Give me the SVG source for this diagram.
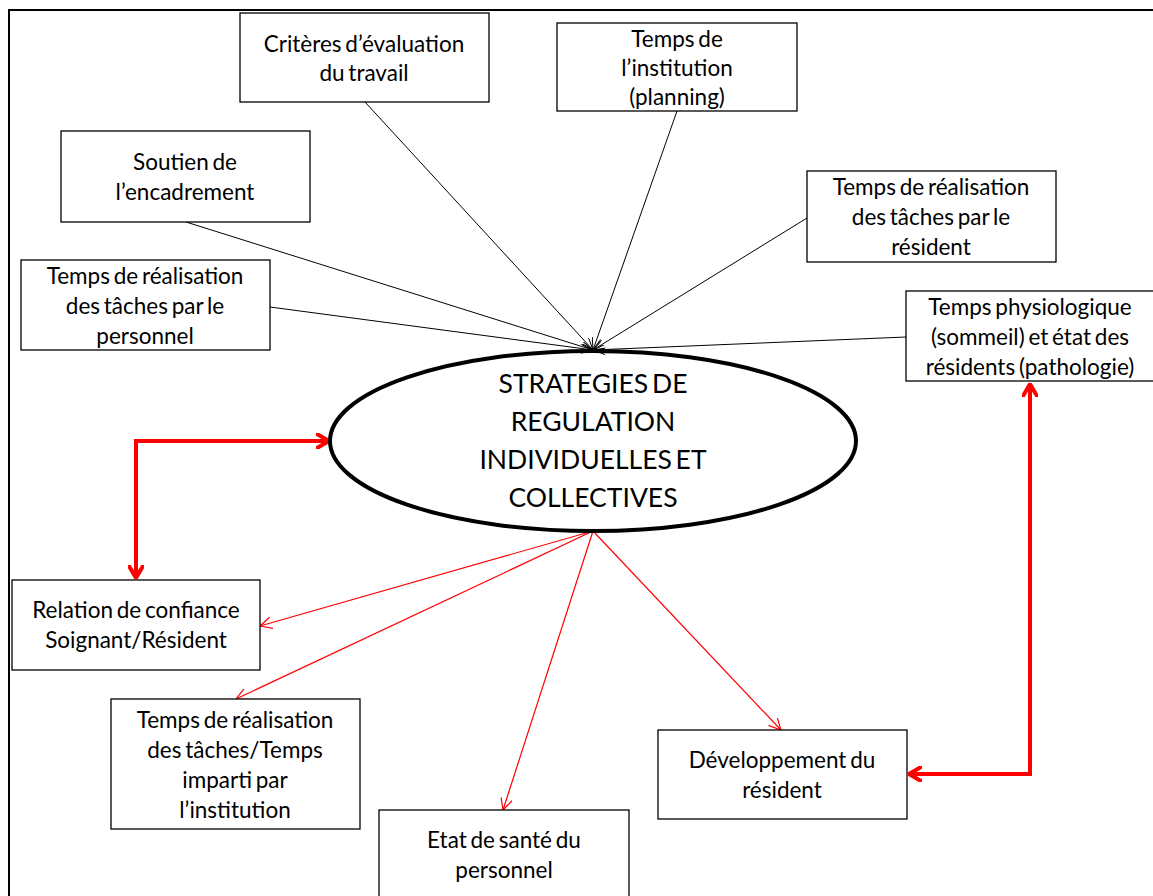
<svg xmlns="http://www.w3.org/2000/svg" width="1153" height="896" viewBox="0 0 1153 896">
<defs>
<style>
.box{fill:#fff;stroke:#000;stroke-width:1.3}
.t{font-family:Lato,"Liberation Sans",sans-serif;font-size:22.5px;fill:#000;text-anchor:middle;word-spacing:-2px}
.big{font-family:Lato,"Liberation Sans",sans-serif;font-size:26.5px;fill:#000;text-anchor:middle;word-spacing:-3px}
.bl{stroke:#000;stroke-width:1;fill:none;marker-end:url(#ab)}
.rt{stroke:#f00;stroke-width:1.2;fill:none;marker-end:url(#ar)}
.rk{stroke:#f00;stroke-width:4;fill:none;marker-start:url(#ak);marker-end:url(#ak)}
</style>
<marker id="ab" viewBox="0 0 12 10" refX="12" refY="5" markerWidth="12" markerHeight="10" markerUnits="userSpaceOnUse" orient="auto">
<path d="M0,0 L12,5 L0,10" fill="none" stroke="#000" stroke-width="1"/>
</marker>
<marker id="ar" viewBox="0 0 12 12" refX="12" refY="6" markerWidth="12" markerHeight="12" markerUnits="userSpaceOnUse" orient="auto">
<path d="M0,0 L12,6 L0,12" fill="none" stroke="#f00" stroke-width="1.2"/>
</marker>
<marker id="ak" viewBox="0 0 14 16" refX="13" refY="8" markerWidth="14" markerHeight="16" markerUnits="userSpaceOnUse" orient="auto-start-reverse">
<path d="M1,1 L13,8 L1,15" fill="none" stroke="#f00" stroke-width="4" stroke-linecap="round" stroke-linejoin="round"/>
</marker>
</defs>
<rect width="1153" height="896" fill="#fff"/>
<path d="M9,896 L9,10 L1153,10" fill="none" stroke="#000" stroke-width="2"/>

<g id="connectors">
<line class="bl" x1="365" y1="102" x2="593" y2="350"/>
<line class="bl" x1="677" y1="111" x2="593" y2="350"/>
<line class="bl" x1="186" y1="222" x2="593" y2="350"/>
<line class="bl" x1="807" y1="218" x2="593" y2="350"/>
<line class="bl" x1="270" y1="307" x2="593" y2="350"/>
<line class="bl" x1="906" y1="337" x2="593" y2="350"/>
<line class="rt" x1="593" y1="531" x2="260" y2="626"/>
<line class="rt" x1="593" y1="531" x2="236" y2="699"/>
<line class="rt" x1="593" y1="531" x2="503" y2="810"/>
<line class="rt" x1="593" y1="531" x2="781" y2="730"/>
<path class="rk" d="M136,578 L136,441 L329,441"/>
<path class="rk" d="M1030,384 L1030,774 L909,774"/>
</g>

<g id="center">
<ellipse cx="593" cy="441" rx="263" ry="90" fill="none" stroke="#000" stroke-width="4"/>
<text class="big" x="593" y="393">STRATEGIES DE</text>
<text class="big" x="593" y="431">REGULATION</text>
<text class="big" x="593" y="469">INDIVIDUELLES ET</text>
<text class="big" x="593" y="507">COLLECTIVES</text>
</g>

<g id="criteres">
<rect class="box" x="240" y="13" width="249" height="89"/>
<text class="t" x="364" y="52">Critères d’évaluation</text>
<text class="t" x="364" y="81">du travail</text>
</g>
<g id="institution">
<rect class="box" x="557" y="23" width="240" height="88"/>
<text class="t" x="677" y="47">Temps de</text>
<text class="t" x="677" y="76">l’institution</text>
<text class="t" x="677" y="105">(planning)</text>
</g>
<g id="soutien">
<rect class="box" x="61" y="131" width="249" height="91"/>
<text class="t" x="185" y="170">Soutien de</text>
<text class="t" x="185" y="200">l’encadrement</text>
</g>
<g id="tr-resident">
<rect class="box" x="807" y="171" width="249" height="91"/>
<text class="t" x="931" y="195">Temps de réalisation</text>
<text class="t" x="931" y="225">des tâches par le</text>
<text class="t" x="931" y="255">résident</text>
</g>
<g id="tr-personnel">
<rect class="box" x="21" y="260" width="249" height="90"/>
<text class="t" x="145" y="284">Temps de réalisation</text>
<text class="t" x="145" y="314">des tâches par le</text>
<text class="t" x="145" y="344">personnel</text>
</g>
<g id="physio">
<rect class="box" x="906" y="291" width="248" height="90"/>
<text class="t" x="1030" y="315">Temps physiologique</text>
<text class="t" x="1030" y="345">(sommeil) et état des</text>
<text class="t" x="1030" y="375">résidents (pathologie)</text>
</g>
<g id="relation">
<rect class="box" x="12" y="580" width="248" height="90"/>
<text class="t" x="136" y="618">Relation de confiance</text>
<text class="t" x="136" y="648">Soignant/Résident</text>
</g>
<g id="tr-imparti">
<rect class="box" x="111" y="699" width="249" height="130"/>
<text class="t" x="235" y="728">Temps de réalisation</text>
<text class="t" x="235" y="758">des tâches/Temps</text>
<text class="t" x="235" y="788">imparti par</text>
<text class="t" x="235" y="818">l’institution</text>
</g>
<g id="sante">
<rect class="box" x="379" y="810" width="250" height="100"/>
<text class="t" x="504" y="848">Etat de santé du</text>
<text class="t" x="504" y="878">personnel</text>
</g>
<g id="developpement">
<rect class="box" x="658" y="730" width="249" height="89"/>
<text class="t" x="782" y="768">Développement du</text>
<text class="t" x="782" y="798">résident</text>
</g>
</svg>
